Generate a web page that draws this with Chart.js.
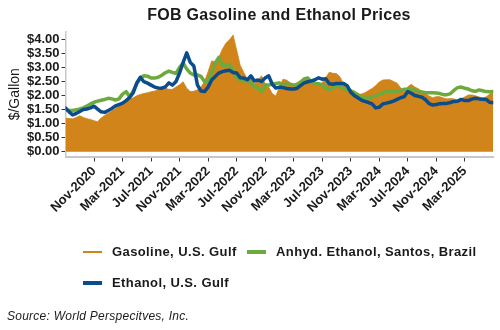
<!DOCTYPE html>
<html><head><meta charset="utf-8">
<script src="https://cdn.jsdelivr.net/npm/chart.js@4.4.1/dist/chart.umd.min.js"></script>
<style>
html,body{margin:0;padding:0;background:#fff;}
#wrap{position:relative;width:500px;height:330px;font-family:"Liberation Sans",Arial,sans-serif;color:#1a1a1a;overflow:hidden;}
canvas{position:absolute;left:0;top:0;}
.t{position:absolute;white-space:nowrap;}
#title{left:65px;width:428px;top:5px;text-align:center;font-weight:bold;font-size:16px;line-height:19px;letter-spacing:0.3px;}
.lg{font-weight:bold;font-size:13px;letter-spacing:0.4px;line-height:16px;}
.sw{position:absolute;}
#src{left:7px;top:308.6px;font-style:italic;font-size:12px;line-height:15px;letter-spacing:0.25px;}
</style></head><body>
<div id="wrap"><canvas id="c" width="500" height="330"></canvas>
<div id="title" class="t">FOB Gasoline and Ethanol Prices</div>
<div id="legend"></div>
<div id="src" class="t">Source: World Perspecitves, Inc.</div>
</div>
<script>
// Half-monthly observations, starting July 2020 (x in months since Jul-2020)
const seriesNames = ["Gasoline, U.S. Gulf", "Anhyd. Ethanol, Santos, Brazil", "Ethanol, U.S. Gulf"];
const seriesColors = ["#D08419", "#6CAA3D", "#0B4C8C"];
const tickMonths = [4, 8, 12, 16, 20, 24, 28, 32, 36, 40, 44, 48, 52, 56];
const tickLabels = ["Nov-2020","Mar-2021","Jul-2021","Nov-2021","Mar-2022","Jul-2022","Nov-2022","Mar-2023","Jul-2023","Nov-2023","Mar-2024","Jul-2024","Nov-2024","Mar-2025"];
const yTicks = [0, 0.5, 1, 1.5, 2, 2.5, 3, 3.5, 4];

const gasoline = [
1.19,1.18,1.17,1.22,1.28,1.22,1.17,1.15,1.10,1.07,
1.20,1.29,1.37,1.45,1.54,1.63,1.72,1.79,1.86,1.92,
1.99,2.04,2.07,2.10,2.13,2.16,2.20,2.23,2.26,2.22,
2.22,2.30,2.38,2.49,2.26,2.14,2.15,2.20,2.30,2.50,
2.85,3.23,3.20,3.35,3.65,3.86,3.98,4.15,3.62,3.08,
2.82,2.58,2.65,2.41,2.55,2.70,2.42,2.30,2.07,1.98,
2.30,2.58,2.55,2.45,2.39,2.46,2.54,2.60,2.55,2.43,
2.38,2.40,2.45,2.64,2.83,2.79,2.78,2.66,2.40,2.23,
2.12,2.06,2.04,2.05,2.10,2.18,2.25,2.35,2.48,2.55,
2.56,2.56,2.50,2.44,2.28,2.14,2.31,2.40,2.30,2.24,
2.12,2.06,1.98,1.92,1.96,1.96,1.91,1.88,1.89,1.88,
1.84,1.88,1.95,2.02,2.02,1.99,1.95,1.91,1.95,2.05,
2.12];

const brazil = [
1.50,1.47,1.47,1.49,1.52,1.56,1.63,1.70,1.76,1.80,
1.83,1.86,1.90,1.88,1.84,1.88,2.05,2.14,1.95,2.15,
2.42,2.62,2.70,2.69,2.62,2.62,2.65,2.72,2.81,2.87,
2.82,2.79,3.00,3.15,2.95,2.80,2.73,2.73,2.68,2.50,
2.52,2.80,3.15,3.36,3.08,3.05,3.12,2.90,2.64,2.55,
2.52,2.54,2.45,2.32,2.27,2.15,2.37,2.37,2.41,2.43,
2.45,2.37,2.41,2.40,2.37,2.37,2.47,2.60,2.62,2.48,
2.43,2.42,2.38,2.28,2.21,2.26,2.33,2.33,2.25,2.21,
2.17,2.11,2.03,1.94,1.90,1.91,1.95,1.99,2.04,2.08,
2.16,2.16,2.14,2.16,2.18,2.22,2.22,2.22,2.20,2.15,
2.13,2.10,2.10,2.10,2.09,2.07,2.03,2.03,2.07,2.19,
2.28,2.30,2.26,2.23,2.17,2.15,2.20,2.17,2.14,2.13,
2.14];

const ethanolGulf = [
1.56,1.42,1.31,1.36,1.43,1.50,1.52,1.56,1.62,1.52,
1.42,1.40,1.47,1.54,1.63,1.68,1.73,1.82,1.93,2.10,
2.45,2.65,2.49,2.44,2.37,2.30,2.27,2.26,2.31,2.45,
2.37,2.50,2.80,3.18,3.52,3.18,3.05,2.38,2.16,2.14,
2.30,2.55,2.68,2.80,2.85,2.88,2.90,2.82,2.80,2.63,
2.62,2.56,2.70,2.52,2.55,2.50,2.62,2.70,2.40,2.27,
2.30,2.28,2.25,2.23,2.23,2.26,2.36,2.45,2.49,2.52,
2.56,2.63,2.58,2.60,2.42,2.40,2.43,2.43,2.43,2.35,
2.12,2.00,1.92,1.84,1.79,1.75,1.70,1.56,1.58,1.70,
1.73,1.76,1.80,1.86,1.92,1.96,2.14,2.08,2.00,1.97,
1.94,1.85,1.71,1.66,1.68,1.71,1.72,1.72,1.75,1.79,
1.80,1.86,1.82,1.82,1.87,1.90,1.88,1.87,1.86,1.76,
1.74];

const xMonths = gasoline.map((_, i) => i / 2);
const pts = arr => arr.map((v, i) => ({x: xMonths[i], y: v}));

Chart.defaults.font.family = '"Liberation Sans", Arial, sans-serif';
Chart.defaults.color = '#1a1a1a';

const tickFont = {family: '"Liberation Sans", Arial, sans-serif', size: 13, weight: 'bold'};

new Chart(document.getElementById('c').getContext('2d'), {
  type: 'line',
  data: { datasets: [
    {label: seriesNames[0], data: pts(gasoline), borderColor: seriesColors[0], backgroundColor: seriesColors[0],
     fill: 'origin', borderWidth: 0.8, pointRadius: 0, tension: 0, order: 3},
    {label: seriesNames[1], data: pts(brazil), borderColor: seriesColors[1], fill: false, borderWidth: 3.5,
     pointRadius: 0, tension: 0, borderJoinStyle: 'round', borderCapStyle: 'round', order: 2},
    {label: seriesNames[2], data: pts(ethanolGulf), borderColor: seriesColors[2], fill: false, borderWidth: 3.5,
     pointRadius: 0, tension: 0, borderJoinStyle: 'round', borderCapStyle: 'round', order: 1}
  ]},
  options: {
    responsive: false, animation: false, devicePixelRatio: 1,
    layout: {padding: {left: 5, right: 6.7, top: 32, bottom: 103.5}},
    plugins: {legend: {display: false}, title: {display: false}, tooltip: {enabled: false}},
    scales: {
      x: {type: 'linear', min: 0, max: 60,
        afterBuildTicks: s => { s.ticks = tickMonths.map(v => ({value: v})); },
        afterFit: s => { s.height = 70; },
        ticks: {autoSkip: false, minRotation: 45, maxRotation: 45, padding: 2, color: '#1a1a1a', font: tickFont,
          callback: (v, i) => tickLabels[i]},
        grid: {drawOnChartArea: false, drawTicks: true, tickLength: 5, tickColor: '#333', tickWidth: 1},
        border: {color: '#c8c8c8', width: 2}
      },
      y: {type: 'linear', min: -0.17, max: 4.26,
        afterBuildTicks: s => { s.ticks = yTicks.map(v => ({value: v})); },
        afterFit: s => { s.width = 60.5; },
        ticks: {autoSkip: false, padding: 2, color: '#1a1a1a', font: tickFont, callback: v => '$' + Number(v).toFixed(2)},
        grid: {drawOnChartArea: false, drawTicks: true, tickLength: 4, tickColor: '#333', tickWidth: 1},
        border: {color: '#c8c8c8', width: 1.5},
        title: {display: true, text: '$/Gallon', color: '#1a1a1a', font: {size: 14}, padding: {top: 1.5, bottom: 0}}
      }
    }
  }
});

// Legend (left-aligned rows like the original)
const legendItems = [
  {i: 0, sx: 83, tx: 112, cy: 252, w: 1.5},
  {i: 1, sx: 247, tx: 276, cy: 252, w: 3.5},
  {i: 2, sx: 83, tx: 112, cy: 283, w: 3.5}
];
const lg = document.getElementById('legend');
legendItems.forEach(it => {
  const sw = document.createElement('div');
  sw.className = 'sw';
  sw.style.cssText = `left:${it.sx}px;top:${it.cy - it.w/2}px;width:19px;height:${it.w}px;background:${seriesColors[it.i]};`;
  lg.appendChild(sw);
  const tx = document.createElement('div');
  tx.className = 't lg';
  tx.style.left = it.tx + 'px';
  tx.style.top = (it.cy - 7.7) + 'px';
  tx.textContent = seriesNames[it.i];
  lg.appendChild(tx);
});
</script>
</body></html>
